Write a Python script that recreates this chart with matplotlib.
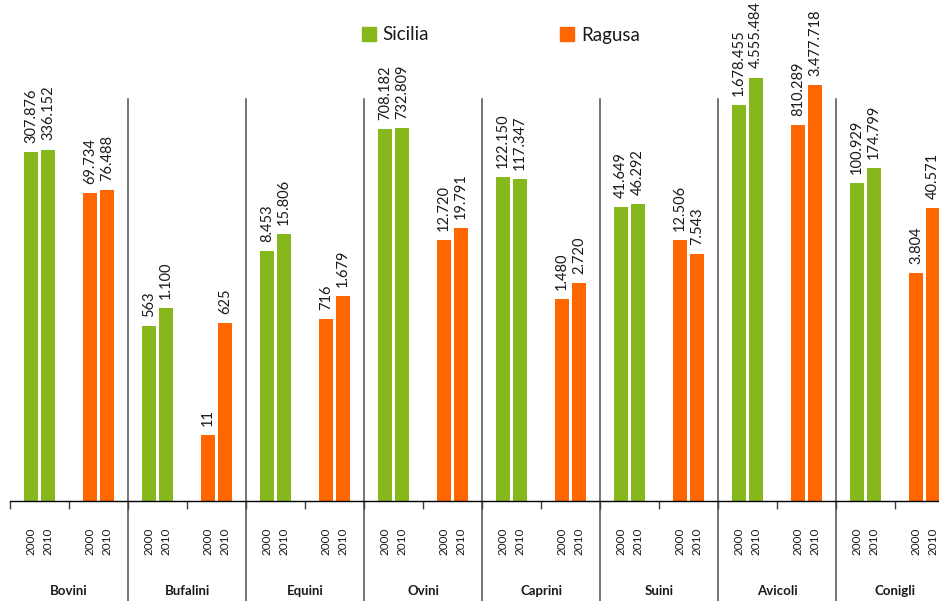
import numpy as np
import matplotlib
matplotlib.use("Agg")
import matplotlib.pyplot as plt
import matplotlib.transforms as mtransforms
from matplotlib.patches import Patch

# DATI
animali = ["Bovini", "Bufalini", "Equini", "Ovini", "Caprini", "Suini", "Avicoli", "Conigli"]
anni = ["2000", "2010"]
sicilia_2000 = [307876, 563, 8453, 708182, 122150, 41649, 1678455, 100929]
sicilia_2010 = [336152, 1100, 15806, 732809, 117347, 46292, 4555484, 174799]
ragusa_2000 = [69734, 11, 716, 12720, 1480, 12506, 810289, 3804]
ragusa_2010 = [76488, 625, 1679, 19791, 2720, 7543, 3477718, 40571]

VERDE = "#86B81B"
ARANCIO = "#FF6600"
TESTO = "#1a1a1a"

plt.rcParams["font.family"] = ["Lato", "DejaVu Sans"]
plt.rcParams["text.color"] = TESTO

W, H = 939, 601
fig = plt.figure(figsize=(W / 100, H / 100), dpi=100)
# l'asse prosegue oltre il bordo destro, come nell'originale
ax = fig.add_axes([10 / W, 100 / H, 944 / W, 501 / H])

n = len(animali)
off = 0.145
larg = 0.23


def fmt(v):
    return f"{v:,}".replace(",", ".")


def barre(base, v2000, v2010, colore):
    for i in range(n):
        c = 2 * i + base + 0.5
        for x, v in ((c - off, v2000[i]), (c + off, v2010[i])):
            ax.bar(x, v, width=larg, color=colore, zorder=2)
            ax.annotate(fmt(v), (x, v), xytext=(0, 6.5), textcoords="offset points",
                        rotation=90, ha="center", va="bottom", fontsize=10.5,
                        color=TESTO, annotation_clip=False)


barre(0, sicilia_2000, sicilia_2010, VERDE)
barre(1, ragusa_2000, ragusa_2010, ARANCIO)

ax.set_yscale("log")
ax.set_ylim(1, 10 ** (501 / 63.6))
ax.set_xlim(0, 2 * n)

for s in ["top", "right", "left"]:
    ax.spines[s].set_visible(False)
ax.spines["bottom"].set_color("black")
ax.spines["bottom"].set_linewidth(1)
ax.set_yticks([])
ax.yaxis.set_minor_locator(matplotlib.ticker.NullLocator())

# tacche ai confini delle sottocategorie
ax.set_xticks(np.arange(0, 2 * n + 1))
ax.set_xticklabels([])
ax.tick_params(axis="x", which="major", length=6, width=1, color="#404040")

# etichette anni
pos_anni, lab_anni = [], []
for k in range(2 * n):
    pos_anni += [k + 0.5 - off, k + 0.5 + off]
    lab_anni += anni
ax.set_xticks(pos_anni, lab_anni, minor=True)
ax.tick_params(axis="x", which="minor", length=0, pad=19, labelsize=8.5,
               labelrotation=90, labelcolor=TESTO)

# separatori dei gruppi e nomi degli animali
trans = mtransforms.blended_transform_factory(ax.transData, ax.transAxes)
for i in range(1, n):
    ax.plot([2 * i, 2 * i], [-100 / 501, 402 / 501], transform=trans,
            color="#505050", lw=1.1, clip_on=False, zorder=1)
for i, a in enumerate(animali):
    ax.text(2 * i + 1, -90 / 501, a, transform=trans, ha="center", va="center",
            fontsize=9.5, fontweight="bold")

# legenda
handles = [Patch(color=VERDE, label="Sicilia"), Patch(color=ARANCIO, label="Ragusa")]
fig.legend(handles=handles, loc="center left", bbox_to_anchor=(362 / W, 1 - 35 / H),
           ncol=2, frameon=False, fontsize=13.5, handlelength=0.75, handleheight=0.75,
           handletextpad=0.35, columnspacing=7.0, borderpad=0, borderaxespad=0)

fig.savefig("out.png", dpi=100)
